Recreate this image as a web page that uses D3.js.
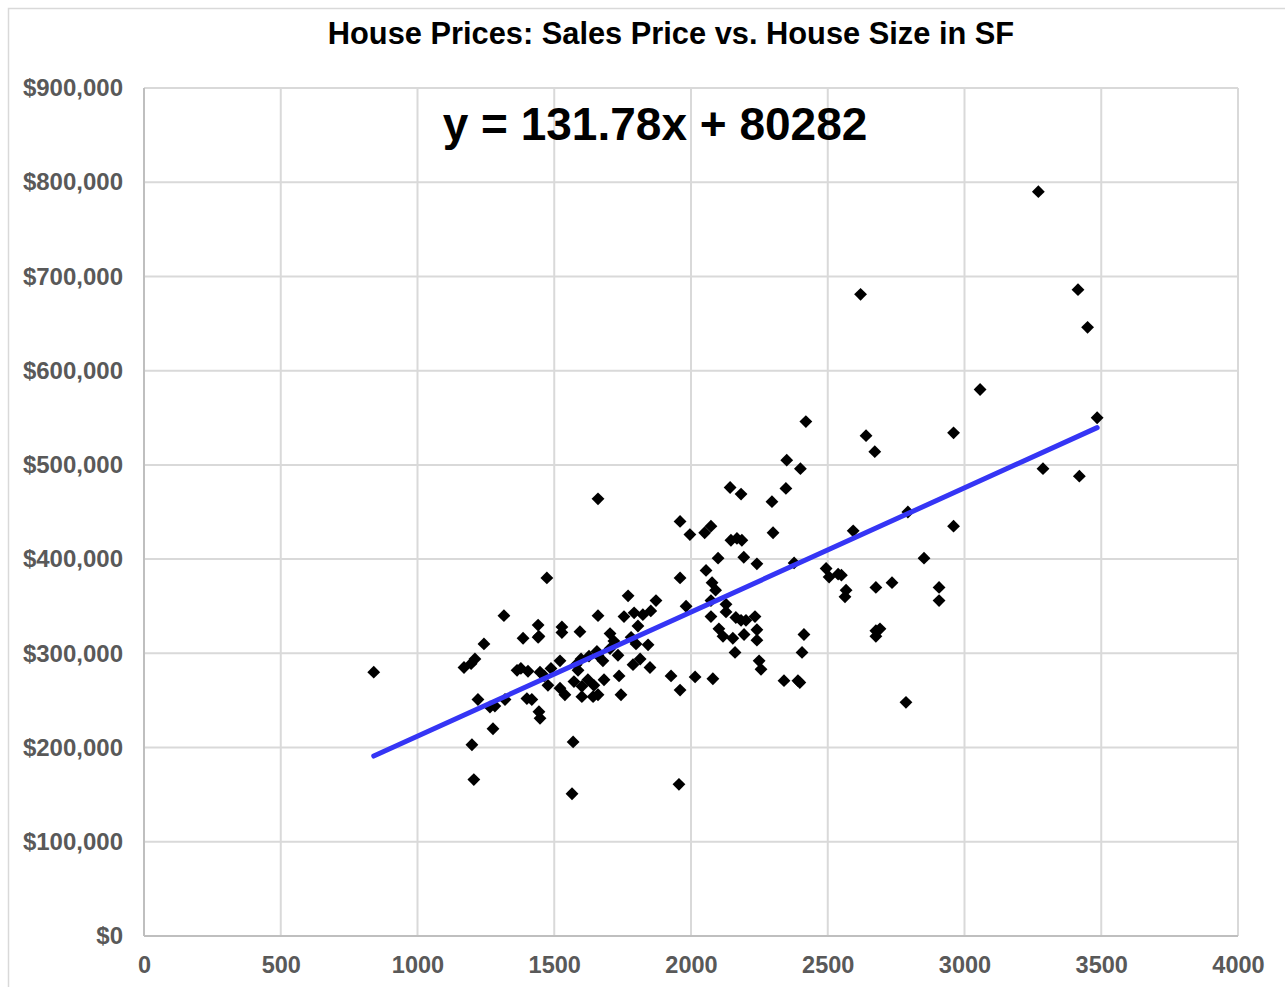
<!DOCTYPE html>
<html><head><meta charset="utf-8">
<script src="https://cdn.jsdelivr.net/npm/d3@7"></script>
<style>body{margin:0;background:#fff}svg{display:block}</style>
</head><body>
<script>
const chartTitle = "House Prices: Sales Price vs. House Size in SF";
const equationLabel = "y = 131.78x + 80282";
const slope = 131.78, intercept = 80282;
const xTicks = [0,500,1000,1500,2000,2500,3000,3500,4000];
const yTicks = [0,100000,200000,300000,400000,500000,600000,700000,800000,900000];
const sqft = [840,3270,3415,3450,2620,3057,3485,2960,2420,2640,2672,2350,2400,3287,3420,2143,2183,2296,1660,2793,2960,2593,1960,1996,2050,2073,2168,2146,2186,2300,2347,2099,2193,2241,2377,2852,1473,1960,2055,2077,2090,2494,2505,2538,2550,2567,2563,2676,2735,2907,2907,1982,2073,2128,2128,2073,2164,2183,2201,2234,2102,2117,2153,2194,2241,2241,2161,2249,2256,2080,2015,1927,1960,1956,2413,2406,2340,2391,2398,2676,2691,2676,2786,1170,1196,1210,1243,1316,1386,1441,1441,1444,1364,1378,1404,1448,1463,1488,1477,1221,1265,1283,1320,1400,1418,1276,1199,1206,1444,1448,1569,1565,1521,1528,1528,1594,1598,1587,1627,1656,1521,1539,1601,1601,1642,1660,1645,1660,1704,1718,1733,1704,1678,1660,1770,1755,1792,1806,1824,1853,1872,1781,1799,1843,1814,1788,1850,1737,1744,1682,1572,1623,1580];
const price = [280000,790000,686000,646000,681000,580000,550000,534000,546000,531000,514000,505000,496000,496000,488000,476000,469000,461000,464000,450000,435000,430000,440000,426000,428000,435000,422000,420000,420000,428000,475000,401000,402000,395000,396000,401000,380000,380000,388000,375000,367000,390000,381000,384000,383000,367000,360000,370000,375000,370000,356000,350000,356000,352000,344000,339000,338000,335000,335000,339000,326000,318000,316000,320000,325000,314000,301000,292000,283000,273000,275000,276000,261000,161000,320000,301000,271000,271000,269000,324000,326000,318000,248000,285000,289000,294000,310000,340000,316000,317000,330000,318000,282000,284000,281000,280000,276000,284000,266000,251000,243000,244000,251000,252000,251000,220000,203000,166000,238000,231000,206000,151000,292000,328000,322000,323000,294000,282000,297000,302000,263000,256000,265000,254000,254000,256000,266000,340000,321000,313000,298000,305000,292000,298000,361000,339000,343000,329000,341000,345000,356000,317000,310000,309000,294000,288000,285000,276000,256000,272000,270000,272000,288000];

const W = 1285, H = 987;
const svg = d3.select("body").append("svg").attr("width", W).attr("height", H);
svg.append("rect").attr("x",8.5).attr("y",8.5).attr("width",1285).attr("height",985)
  .attr("fill","#fff").attr("stroke","#d9d9d9").attr("stroke-width",1.5);

const pLeft = 144, pRight = 1238, pTop = 88, pBottom = 936;
const x = d3.scaleLinear().domain([0,4000]).range([pLeft,pRight]);
const y = d3.scaleLinear().domain([0,900000]).range([pBottom,pTop]);
const font = "'Liberation Sans', Arial, sans-serif";

// gridlines
svg.append("g").selectAll("line").data(xTicks).join("line")
  .attr("x1",d=>x(d)).attr("x2",d=>x(d)).attr("y1",pTop).attr("y2",pBottom)
  .attr("stroke","#d9d9d9").attr("stroke-width",2);
svg.append("g").selectAll("line").data(yTicks).join("line")
  .attr("x1",pLeft).attr("x2",pRight).attr("y1",d=>y(d)).attr("y2",d=>y(d))
  .attr("stroke","#d9d9d9").attr("stroke-width",2);
// axis lines
svg.append("line").attr("x1",pLeft).attr("x2",pLeft).attr("y1",pTop).attr("y2",pBottom).attr("stroke","#bfbfbf").attr("stroke-width",2);
svg.append("line").attr("x1",pLeft).attr("x2",pRight).attr("y1",pBottom).attr("y2",pBottom).attr("stroke","#bfbfbf").attr("stroke-width",2);

// axes labels via d3 axes
const fmt = d => "$" + d3.format(",")(d);
const yAxis = svg.append("g").attr("transform",`translate(${pLeft},0)`)
  .call(d3.axisLeft(y).tickValues(yTicks).tickFormat(fmt).tickSize(0).tickPadding(21));
yAxis.select(".domain").remove();
yAxis.selectAll("text").attr("font-family",font).attr("font-size",24).attr("font-weight","bold").attr("fill","#595959");
const xAxis = svg.append("g").attr("transform",`translate(0,${pBottom})`)
  .call(d3.axisBottom(x).tickValues(xTicks).tickFormat(d3.format("d")).tickSize(0).tickPadding(20));
xAxis.select(".domain").remove();
xAxis.selectAll("text").attr("font-family",font).attr("font-size",23.5).attr("font-weight","bold").attr("fill","#595959");

// points
const pts = sqft.map((s,i)=>({s, p: price[i]}));
const diamond = d3.symbol().type(d3.symbolDiamond2).size(105);
svg.append("g").selectAll("path").data(pts).join("path")
  .attr("d", diamond)
  .attr("transform", d=>`translate(${x(d.s)},${y(d.p)})`)
  .attr("fill","#000");

// trendline
const xmin = d3.min(sqft), xmax = d3.max(sqft);
svg.append("line")
  .attr("x1",x(xmin)).attr("y1",y(slope*xmin+intercept))
  .attr("x2",x(xmax)).attr("y2",y(slope*xmax+intercept))
  .attr("stroke","#3535f5").attr("stroke-width",5).attr("stroke-linecap","round");

// title & equation
svg.append("text").attr("x",671).attr("y",44).attr("text-anchor","middle")
  .attr("font-family",font).attr("font-size",30.8).attr("font-weight","bold").attr("fill","#000").text(chartTitle);
svg.append("text").attr("x",655).attr("y",140).attr("text-anchor","middle")
  .attr("font-family",font).attr("font-size",46).attr("font-weight","bold").attr("fill","#000").text(equationLabel);
</script>
</body></html>
